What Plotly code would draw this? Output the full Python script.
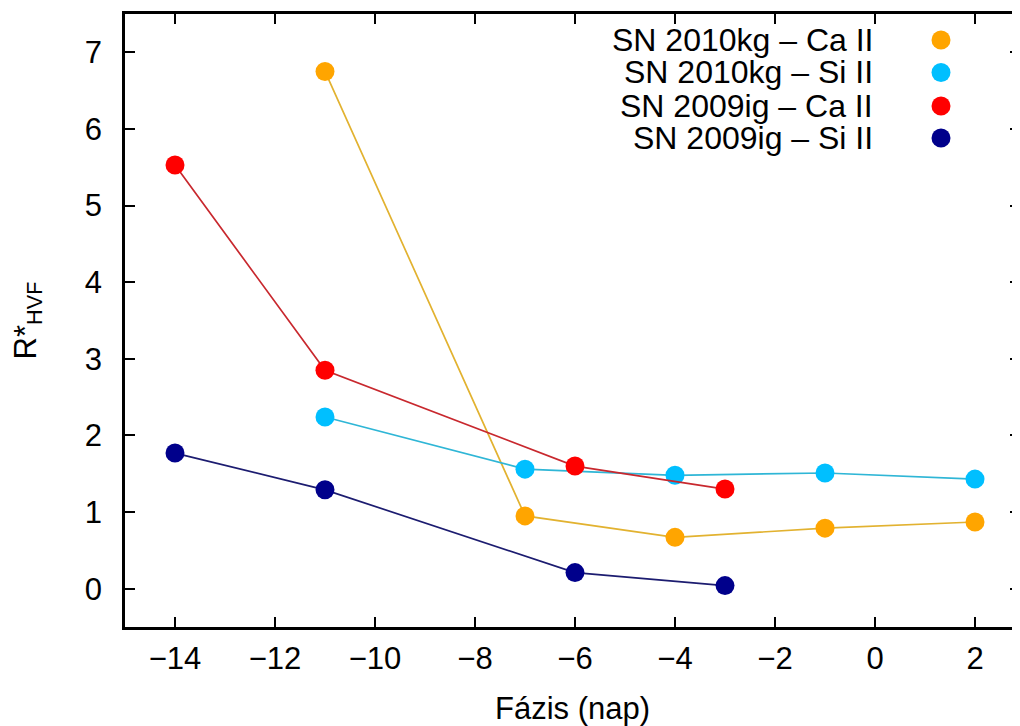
import plotly.graph_objects as go

# ---- data ----
phase_2010kg = [-11, -7, -4, -1, 2]
ca_2010kg = [6.75, 0.95, 0.67, 0.79, 0.87]
si_2010kg = [2.24, 1.56, 1.48, 1.51, 1.43]

phase_2009ig = [-14, -11, -6, -3]
ca_2009ig = [5.53, 2.85, 1.60, 1.30]
si_2009ig = [1.77, 1.29, 0.21, 0.04]

names = ["SN 2010kg – Ca II", "SN 2010kg – Si II", "SN 2009ig – Ca II", "SN 2009ig – Si II"]
marker_colors = ["#ffa500", "#00bfff", "#ff0000", "#00008b"]
line_colors = ["#e2b230", "#2fb6d6", "#c8282e", "#1c1c70"]

x_ticks = [-14, -12, -10, -8, -6, -4, -2, 0, 2]
y_ticks = [0, 1, 2, 3, 4, 5, 6, 7]

FONT = "Liberation Sans, Arial, Helvetica, sans-serif"
FS = 31

series = [
    (phase_2010kg, ca_2010kg),
    (phase_2010kg, si_2010kg),
    (phase_2009ig, ca_2009ig),
    (phase_2009ig, si_2009ig),
]

fig = go.Figure()
for (xs, ys), name, mc, lc in zip(series, names, marker_colors, line_colors):
    fig.add_trace(go.Scatter(
        x=xs, y=ys, mode="lines+markers", name=name,
        line=dict(color=lc, width=1.7),
        marker=dict(color=mc, size=19, line=dict(width=0)),
        showlegend=False,
    ))

# page has an 8px body margin, so the figure is sized to fit the window
OFF = 8
W, H = 1020 - OFF, 726 - OFF
L, R, T, B = 125 - OFF, 0, 14 - OFF, 726 - 627
pw, ph = W - L - R, H - T - B

# custom legend: right-aligned text, marker to the right (screen px)
leg_rows_px = [40, 72.5, 106, 138]
text_right_px = 875
marker_x_px = 941
for name, mc, ypx in zip(names, marker_colors, leg_rows_px):
    xp = (text_right_px - OFF - L) / pw
    yp = 1 - (ypx - OFF - T) / ph
    fig.add_annotation(
        x=xp, y=yp, xref="paper", yref="paper", text=name, showarrow=False,
        xanchor="right", yanchor="middle", font=dict(family=FONT, size=FS + 1, color="black"),
    )
    cx = (marker_x_px - OFF - L) / pw
    r = 9.5
    fig.add_shape(
        type="circle", xref="paper", yref="paper",
        x0=cx - r / pw, x1=cx + r / pw, y0=yp - r / ph, y1=yp + r / ph,
        fillcolor=mc, line=dict(width=0),
    )

axis_common = dict(
    showline=True, linecolor="black", linewidth=2.5, mirror="ticks",
    ticks="inside", ticklen=10, tickwidth=2, tickcolor="black",
    showgrid=False, zeroline=False,
    tickfont=dict(family=FONT, size=FS, color="black"),
)

fig.update_xaxes(
    range=[-15, -15 + pw / 50.0], tickvals=x_ticks,
    title=dict(text="Fázis (nap)", font=dict(family=FONT, size=FS, color="black"), standoff=24),
    ticklabelstandoff=2,
    **axis_common,
)
fig.update_yaxes(
    range=[-0.5, 7.5], tickvals=y_ticks,
    title=dict(text="R*<sub>HVF</sub>", font=dict(family=FONT, size=FS, color="black"), standoff=40),
    ticklabelstandoff=14,
    **axis_common,
)

fig.update_layout(
    width=W, height=H,
    margin=dict(l=L, r=R, t=T, b=B, autoexpand=False),
    paper_bgcolor="white", plot_bgcolor="white",
    font=dict(family=FONT, color="black"),
)

fig.write_html("out.html")
